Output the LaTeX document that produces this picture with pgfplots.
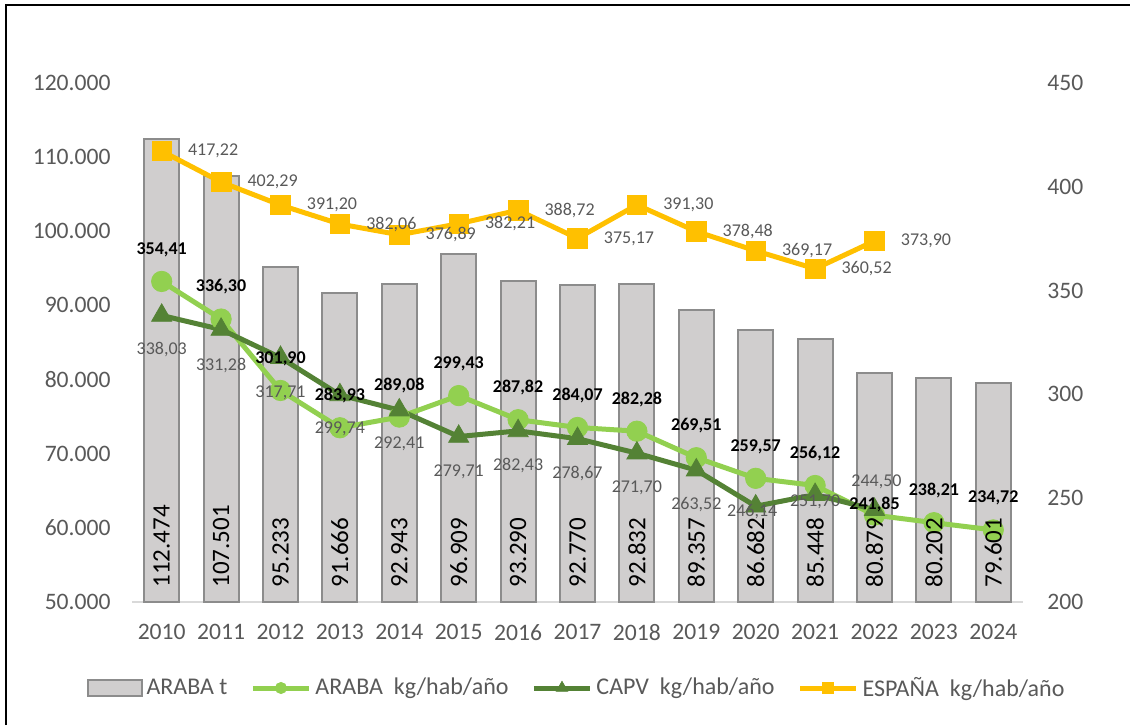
\documentclass[border=0pt]{standalone}
\usepackage{fontspec}
\setmainfont{Carlito}
\usepackage{pgfplots}
\usepackage{pgfplotstable}
\pgfplotsset{compat=1.18}
\pgfkeys{/pgf/number format/assume math mode=true}
\definecolor{barfill}{HTML}{D0CECE}
\definecolor{bardraw}{HTML}{8C8C8C}
\definecolor{lgreen}{HTML}{92D050}
\definecolor{dgreen}{HTML}{548235}
\definecolor{gold}{HTML}{FFC000}
\definecolor{txtgrey}{HTML}{595959}
\definecolor{basegrey}{HTML}{D9D9D9}

\pgfplotstableread{
x t
0 112474
1 107501
2 95233
3 91666
4 92943
5 96909
6 93290
7 92770
8 92832
9 89357
10 86682
11 85448
12 80879
13 80202
14 79601
}\bartable

\pgfplotstableread{
x y dx dy
0 354.41 0 16
1 336.30 0 16
2 301.90 0 16
3 283.93 0 16
4 289.08 0 16
5 299.43 0 16
6 287.82 0 16
7 284.07 0 16
8 282.28 0 16
9 269.51 0 16
10 259.57 0 16
11 256.12 0 16
12 241.85 0 5.5
13 238.21 0 16
14 234.72 0 16
}\arabatable

\pgfplotstableread{
x y dx dy
0 338.03 0 -17
1 331.28 0 -18
2 317.71 0 -17.5
3 299.74 0 -17
4 292.41 0 -17
5 279.71 0 -17.5
6 282.43 0 -17.5
7 278.67 0 -17.5
8 271.70 0 -17.5
9 263.52 0 -17
10 246.14 -1.75 -2.5
11 251.70 0 -3.5
12 244.50 1 14
}\capvtable

\pgfplotstableread{
x y dx dy
0 417.22 0 0
1 402.29 0 0
2 391.20 0 0
3 382.06 0 0
4 376.89 0 0
5 382.21 0 0
6 388.72 0 0
7 375.17 0 0
8 391.30 0 0
9 378.48 0 0
10 369.17 0 0
11 360.52 0 0
12 373.90 0 0
}\espanatable

\begin{document}
\begin{tikzpicture}
\useasboundingbox (-66pt,-61.5pt) rectangle (499pt,301pt);
\draw[black, line width=1.2pt] (-63pt,-61.5pt) -- (-63pt,298.5pt) -- (499pt,298.5pt);

\begin{axis}[
  at={(0,0)}, anchor=south west,
  scale only axis, width=445.5pt, height=259.5pt,
  xmin=-0.5, xmax=14.5, ymin=50000, ymax=120000,
  xtick={0,1,...,14},
  xticklabels={2010,2011,2012,2013,2014,2015,2016,2017,2018,2019,2020,2021,2022,2023,2024},
  ytick={50000,60000,...,120000},
  scaled y ticks=false,
  axis x line*=bottom, axis y line*=left,
  y axis line style={draw=none},
  x axis line style={draw=basegrey, line width=1pt},
  major tick length=0pt,
  tick style={draw=none},
  tick label style={font=\fontsize{11.8}{12}\selectfont, text=txtgrey},
  xticklabel style={yshift=-7.7pt},
  yticklabel style={xshift=-7.2pt, /pgf/number format/.cd, fixed, 1000 sep={.}},
]
\addplot[ybar, bar width=17.5pt, fill=barfill, draw=bardraw, line width=1pt] table[x=x,y=t]{\bartable};
\end{axis}

\begin{axis}[
  at={(0,0)}, anchor=south west,
  scale only axis, width=445.5pt, height=259.5pt,
  xmin=-0.5, xmax=14.5, ymin=200, ymax=450,
  axis x line=none, axis y line*=right,
  y axis line style={draw=none},
  ytick={200,250,...,450},
  major tick length=0pt,
  tick style={draw=none},
  tick label style={font=\fontsize{11.8}{12}\selectfont, text=txtgrey},
  yticklabel style={xshift=8.7pt},
  clip=false,
  legend columns=4,
  legend style={at={(0.5,0)}, anchor=center, yshift=-43pt, draw=none, fill=none,
    font=\fontsize{12}{12}\selectfont, text=txtgrey,
    /tikz/every even column/.append style={column sep=9.5pt}},
  legend image code/.code={\draw[mark repeat=2,mark phase=2,#1] plot coordinates {(0pt,0pt) (14pt,0pt) (28pt,0pt)};},
]
\addlegendimage{legend image code/.code={\draw[fill=barfill,draw=bardraw,line width=1pt] (0pt,-4pt) rectangle (27pt,4pt);}}
\addlegendentry{ARABA t}
\addlegendimage{lgreen, line width=2.5pt, mark=*, mark size=2.8pt, mark options={solid, line width=0.4pt}}
\addlegendentry{ARABA\ \ kg/hab/año}
\addlegendimage{dgreen, line width=2.5pt, mark=triangle*, mark size=3.3pt, mark options={solid, line width=0.4pt}}
\addlegendentry{CAPV\ \ kg/hab/año}
\addlegendimage{gold, line width=2.5pt, mark=square*, mark size=2.8pt, mark options={solid, line width=0.4pt}}
\addlegendentry{ESPAÑA\ \ kg/hab/año}

\addplot[forget plot, lgreen, line width=2.5pt, mark=*, mark size=5.1pt, mark options={solid, line width=0.4pt}] table[x=x,y=y]{\arabatable};
\addplot[forget plot, dgreen, line width=2.5pt, mark=triangle*, mark size=5.8pt, mark options={solid, line width=0.4pt}] table[x=x,y=y]{\capvtable};
\addplot[forget plot, gold, line width=2.5pt, mark=square*, mark size=4.9pt, mark options={solid, line width=0.4pt}] table[x=x,y=y]{\espanatable};

% bar value labels (drawn above the lines)
\addplot[draw=none, forget plot,
  nodes near coords={\pgfmathprintnumber[fixed,precision=0,1000 sep={.}]{\pgfplotspointmeta}},
  point meta=explicit,
  every node near coord/.append style={rotate=90, anchor=west, inner sep=0pt,
     font=\fontsize{12.5}{13}\selectfont, text=black}]
  table[x=x, y expr=206.74, meta=t]{\bartable};

\addplot[draw=none, forget plot,
  nodes near coords={\pgfmathprintnumber[fixed,fixed zerofill,precision=2,use comma]{\pgfplotspointmeta}},
  point meta=explicit,
  visualization depends on={\thisrow{dy} \as \ldy},
  visualization depends on={\thisrow{dx} \as \ldx},
  every node near coord/.append style={anchor=center, inner sep=0pt, xshift=\ldx pt, yshift=\ldy pt,
     font=\bfseries\fontsize{9}{9}\selectfont, text=black}]
  table[x=x,y=y,meta=y]{\arabatable};
\addplot[draw=none, forget plot,
  nodes near coords={\pgfmathprintnumber[fixed,fixed zerofill,precision=2,use comma]{\pgfplotspointmeta}},
  point meta=explicit,
  visualization depends on={\thisrow{dy} \as \ldy},
  visualization depends on={\thisrow{dx} \as \ldx},
  every node near coord/.append style={anchor=center, inner sep=0pt, xshift=\ldx pt, yshift=\ldy pt,
     font=\fontsize{9}{9}\selectfont, text=txtgrey}]
  table[x=x,y=y,meta=y]{\capvtable};
\addplot[draw=none, forget plot,
  nodes near coords={\pgfmathprintnumber[fixed,fixed zerofill,precision=2,use comma]{\pgfplotspointmeta}},
  point meta=explicit,
  every node near coord/.append style={anchor=west, inner sep=0pt, xshift=13pt,
     font=\fontsize{9}{9}\selectfont, text=txtgrey}]
  table[x=x,y=y,meta=y]{\espanatable};
\end{axis}
\end{tikzpicture}
\end{document}
